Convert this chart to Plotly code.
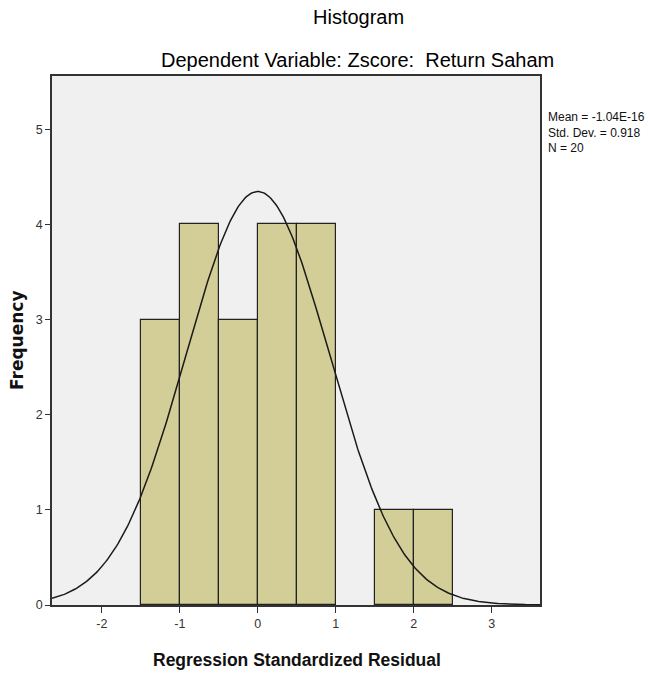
import numpy as np
import plotly.graph_objects as go

bin_left = [-1.5, -1.0, -0.5, 0.0, 0.5, 1.0, 1.5, 2.0]
counts = [3, 4, 3, 4, 4, 0, 1, 1]
bin_width = 0.5
mean = -1.04e-16
std_dev = 0.918
n_obs = 20
x_ticks = [-2, -1, 0, 1, 2, 3]
x_tick_labels = ["-2", "-1", "0", "1", "2", "3"]
y_ticks = [0, 1, 2, 3, 4, 5]

centers = [b + bin_width / 2 for b, c in zip(bin_left, counts) if c > 0]
heights = [c for c in counts if c > 0]
xs = np.linspace(-2.64, 3.62, 400)
ys = n_obs * bin_width / (std_dev * np.sqrt(2 * np.pi)) * np.exp(-0.5 * ((xs - mean) / std_dev) ** 2)

fig = go.Figure()
fig.add_trace(go.Bar(x=centers, y=heights, width=bin_width,
                     marker=dict(color="#d3ce97", line=dict(color="#222222", width=1.2)),
                     showlegend=False))
fig.add_trace(go.Scatter(x=xs, y=ys, mode="lines", line=dict(color="#1a1a1a", width=1.5),
                         showlegend=False, hoverinfo="skip"))

L, R, T, B = 52, 540, 76, 605


def px_x(p):
    return (p - L) / (R - L)


def px_y(p):
    return (B - p) / (B - T)


axis_font = dict(family="Arial, Liberation Sans", size=12.5, color="#333333")
ann = [
    dict(text="Histogram", x=px_x(358), y=px_y(17), font=dict(size=20, color="#000000")),
    dict(text="Dependent Variable: Zscore:  Return Saham", x=px_x(357), y=px_y(60),
         font=dict(size=20, color="#000000")),
    dict(text="<b>Regression Standardized Residual</b>", x=px_x(297), y=px_y(660),
         font=dict(size=17.5, color="#111111")),
    dict(text="<b>Frequency</b>", x=px_x(17), y=px_y(340), textangle=-90,
         font=dict(size=17, color="#111111", family="DejaVu Sans")),
]
for a in ann:
    a.update(xref="paper", yref="paper", showarrow=False, xanchor="center", yanchor="middle")
ann.append(dict(text=f"Mean = -1.04E-16<br>Std. Dev. = {std_dev}<br>N = {n_obs}",
                x=px_x(546), y=px_y(108), xref="paper", yref="paper", showarrow=False,
                xanchor="left", yanchor="top", align="left",
                font=dict(size=12, color="#111111", family="Liberation Sans Narrow, Arial")))

fig.update_layout(
    width=650, height=675,
    margin=dict(l=L, r=650 - R, t=T, b=675 - B),
    paper_bgcolor="white", plot_bgcolor="#f0f0f0",
    bargap=0,
    font=dict(family="Arial, Liberation Sans", color="#111111"),
    xaxis=dict(range=[-2.64, 3.62], tickvals=x_ticks, ticktext=x_tick_labels, ticks="outside", ticklen=6,
               tickcolor="#333333", tickfont=axis_font, showgrid=False, zeroline=False,
               showline=True, linecolor="#333333", linewidth=1.5, mirror=True),
    yaxis=dict(range=[0, 5.56], tickvals=y_ticks, ticks="outside", ticklen=5,
               tickcolor="#333333", tickfont=axis_font, showgrid=False, zeroline=False,
               showline=True, linecolor="#333333", linewidth=1.5, mirror=True),
    annotations=ann,
)

fig.write_html("out.html")
